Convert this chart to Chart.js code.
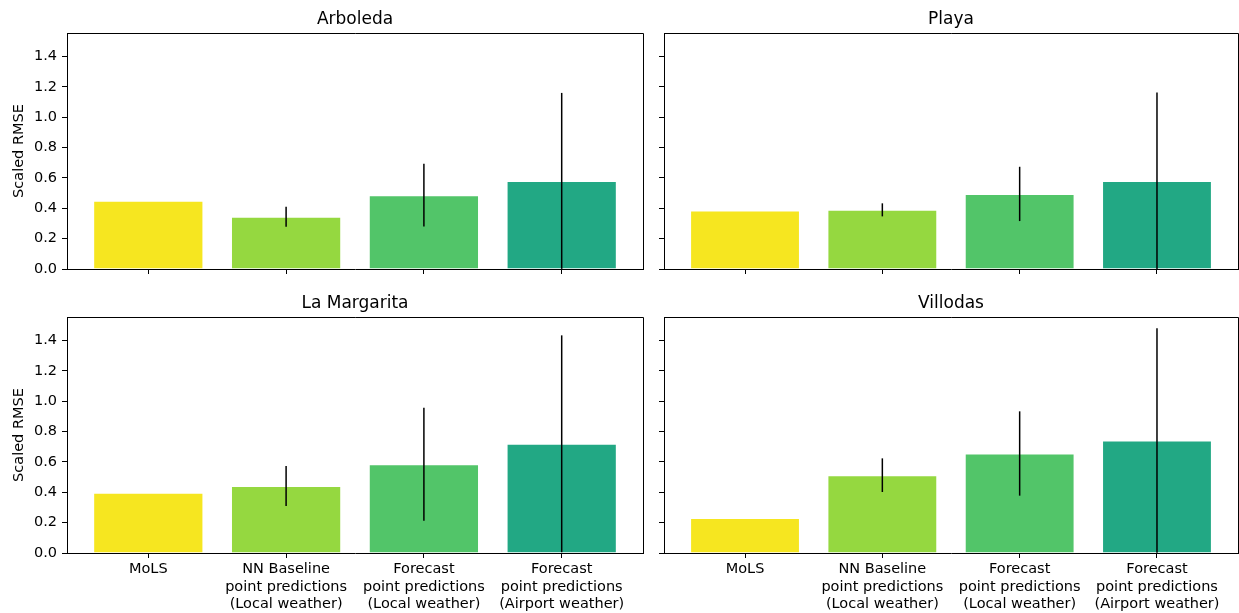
<!DOCTYPE html>
<html>
<head>
<meta charset="utf-8">
<script src="https://cdn.jsdelivr.net/npm/chart.js@4.4.1/dist/chart.umd.min.js"></script>
<style>
  html, body { margin: 0; padding: 0; background: #fff; }
  #wrap { position: relative; width: 1239px; height: 613px; }
  #wrap canvas { position: absolute; left: 0; top: 0; }
</style>
</head>
<body>
<div id="wrap">
  <canvas id="c0" width="1239" height="613"></canvas>
  <canvas id="c1" width="1239" height="613"></canvas>
  <canvas id="c2" width="1239" height="613"></canvas>
  <canvas id="c3" width="1239" height="613"></canvas>
</div>
<script>
// x categories (one label per line)
const categories = [
  ["MoLS"],
  ["NN Baseline", "point predictions", "(Local weather)"],
  ["Forecast", "point predictions", "(Local weather)"],
  ["Forecast", "point predictions", "(Airport weather)"],
];
const barColors = ["#f6e620", "#95d840", "#52c569", "#22a884"];
const yTicks = [0, 0.2, 0.4, 0.6, 0.8, 1.0, 1.2, 1.4];

// scaled RMSE per site + symmetric error (std)
const arboleda = [0.45, 0.345, 0.487, 0.581];
const arboledaErr = [0, 0.066, 0.207, 0.58];
const playa = [0.385, 0.39, 0.495, 0.581];
const playaErr = [0, 0.043, 0.179, 0.583];
const margarita = [0.398, 0.442, 0.585, 0.72];
const margaritaErr = [0, 0.132, 0.372, 0.715];
const villodas = [0.231, 0.513, 0.656, 0.742];
const villodasErr = [0, 0.111, 0.278, 0.74];

Chart.defaults.font.family = "'DejaVu Sans', sans-serif";
Chart.defaults.color = "#000";

// panel layout: [canvas id, title, values, errors, row, col]
const panels = [
  ["c0", "Arboleda", arboleda, arboledaErr, 0, 0],
  ["c1", "Playa", playa, playaErr, 0, 1],
  ["c2", "La Margarita", margarita, margaritaErr, 1, 0],
  ["c3", "Villodas", villodas, villodasErr, 1, 1],
];

// error bars drawn through the scales
const errorBars = {
  id: "errorBars",
  afterDatasetsDraw(chart, _args, opts) {
    const { ctx, chartArea, scales } = chart;
    const vals = opts.values, errs = opts.errors;
    ctx.save();
    ctx.beginPath();
    ctx.rect(chartArea.left, chartArea.top, chartArea.right - chartArea.left, chartArea.bottom - chartArea.top);
    ctx.clip();
    ctx.strokeStyle = "#000";
    ctx.lineWidth = 1.5;
    vals.forEach((v, i) => {
      if (!errs[i]) return;
      const x = scales.x.getPixelForValue(i);
      ctx.beginPath();
      ctx.moveTo(x, scales.y.getPixelForValue(v - errs[i]));
      ctx.lineTo(x, scales.y.getPixelForValue(v + errs[i]));
      ctx.stroke();
    });
    ctx.restore();
  },
};

// top & right spines
const frame = {
  id: "frame",
  afterDraw(chart) {
    const { ctx, chartArea: a } = chart;
    ctx.save();
    ctx.strokeStyle = "#000";
    ctx.lineWidth = 1;
    ctx.beginPath();
    ctx.moveTo(a.left, a.top + 0.5);
    ctx.lineTo(a.right + 0.5, a.top + 0.5);
    ctx.lineTo(a.right + 0.5, a.bottom);
    ctx.stroke();
    ctx.restore();
  },
};

panels.forEach(([id, title, values, errs, row, col]) => {
  const isLeft = col === 0;
  const isBottom = row === 1;
  const padding = {
    left: isLeft ? 0 : 650,
    right: isLeft ? 1239 - 643 : 1,
    top: isBottom ? 284 : 0,
    bottom: isBottom ? 0 : 613 - 269 - 20,
  };

  new Chart(document.getElementById(id), {
    type: "bar",
    data: {
      datasets: [
        {
          data: values.map((v, i) => ({ x: i, y: v })),
          backgroundColor: barColors,
          borderColor: "rgba(255,255,255,0.25)",
          borderWidth: { top: 1, left: 1, right: 1, bottom: 0 },
          barPercentage: 0.8,
          categoryPercentage: 1.0,
        },
      ],
    },
    options: {
      responsive: false,
      animation: false,
      devicePixelRatio: 1,
      layout: { padding },
      plugins: {
        legend: { display: false },
        tooltip: { enabled: false },
        title: {
          display: true,
          text: title,
          fullSize: false,
          font: { size: 17, weight: "normal" },
          color: "#000",
          padding: { top: 9, bottom: 3.6 },
        },
        errorBars: { values, errors: errs },
      },
      scales: {
        x: {
          type: "linear",
          offset: false,
          min: -0.59,
          max: 3.59,
          afterBuildTicks: (scale) => {
            scale.ticks = categories.map((_c, i) => ({ value: i }));
          },
          afterFit: (scale) => {
            scale.height = isBottom ? 60 : 20;
          },
          ticks: {
            autoSkip: false,
            maxRotation: 0,
            padding: 3,
            font: { size: 14.5, lineHeight: 1.2 },
            color: "#000",
            callback: (v) => (isBottom ? categories[v] : ""),
          },
          grid: {
            offset: false,
            drawOnChartArea: false,
            drawTicks: true,
            tickLength: 5,
            tickColor: "#000",
          },
          border: { display: true, color: "#000", width: 1 },
        },
        y: {
          min: 0,
          max: 1.556,
          afterBuildTicks: (scale) => {
            scale.ticks = yTicks.map((v) => ({ value: v }));
          },
          afterFit: (scale) => {
            scale.width = isLeft ? 67 : 14;
          },
          ticks: {
            padding: 5,
            font: { size: 14.5 },
            color: "#000",
            callback: (v) => (isLeft ? v.toFixed(1) : ""),
          },
          grid: {
            drawOnChartArea: false,
            drawTicks: true,
            tickLength: 5,
            tickColor: "#000",
          },
          border: { display: true, color: "#000", width: 1 },
          title: {
            display: isLeft,
            text: "Scaled RMSE",
            font: { size: 14.5 },
            color: "#000",
            padding: { top: 11, bottom: 0 },
          },
        },
      },
    },
    plugins: [errorBars, frame],
  });
});
</script>
</body>
</html>
